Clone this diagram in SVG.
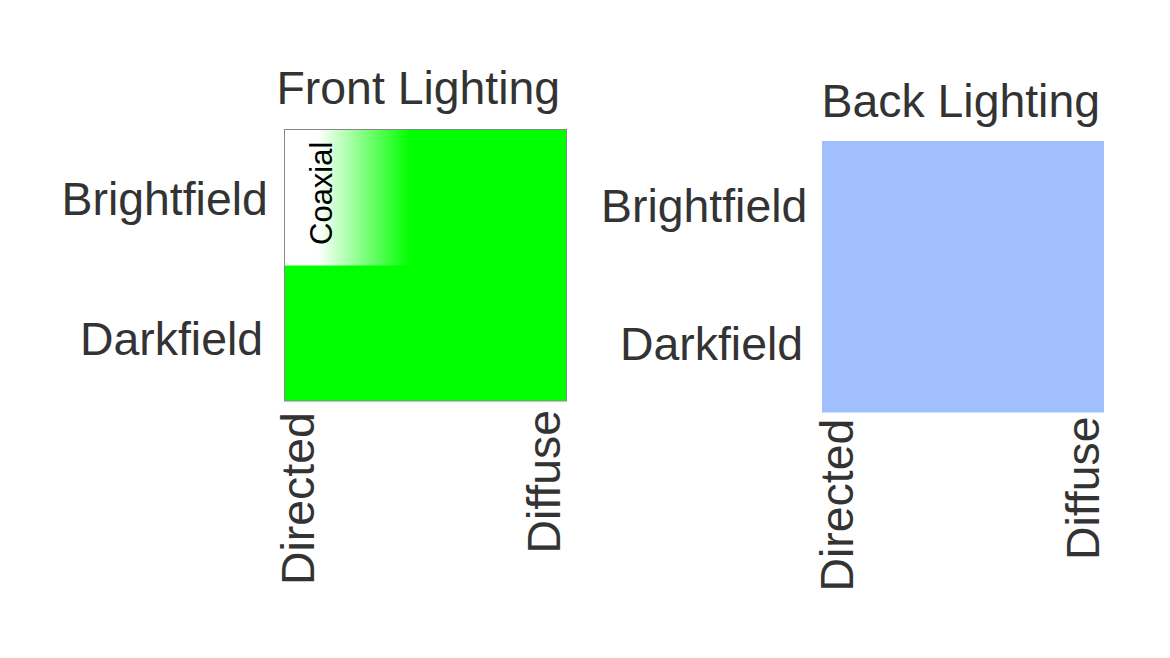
<svg xmlns="http://www.w3.org/2000/svg" width="1170" height="658" viewBox="0 0 1170 658">
  <style>
    .lbl { font-family: "Liberation Sans", Arial, sans-serif; font-size: 46.4px; fill: #333333; }
    .coax { font-family: "Liberation Sans", Arial, sans-serif; font-size: 31px; fill: #000000; }
  </style>
  <defs>
    <linearGradient id="coaxGrad" gradientUnits="userSpaceOnUse" x1="318" y1="0" x2="410" y2="0">
      <stop offset="0" stop-color="#ffffff"/>
      <stop offset="1" stop-color="#00ff00"/>
    </linearGradient>
  </defs>
  <rect width="1170" height="658" fill="#ffffff"/>

  <g id="front">
    <rect x="284.5" y="129.5" width="282" height="271.5" fill="#00ff00" stroke="#888888" stroke-width="1"/>
    <rect x="285" y="130" width="125" height="135.5" fill="url(#coaxGrad)"/>
    <text class="coax" transform="translate(331.5,245) rotate(-90)">Coaxial</text>
    <text class="lbl" x="276.5" y="104">Front Lighting</text>
    <text class="lbl" x="61.5" y="215">Brightfield</text>
    <text class="lbl" x="80" y="355">Darkfield</text>
    <text class="lbl" transform="translate(313.5,585) rotate(-90)">Directed</text>
    <text class="lbl" transform="translate(560,553.5) rotate(-90)">Diffuse</text>
  </g>

  <g id="back">
    <rect x="822" y="141" width="282" height="271.5" fill="#a0bffc"/>
    <text class="lbl" x="821.5" y="116.7">Back Lighting</text>
    <text class="lbl" x="601" y="221.7">Brightfield</text>
    <text class="lbl" x="620" y="360">Darkfield</text>
    <text class="lbl" transform="translate(852.7,591.5) rotate(-90)">Directed</text>
    <text class="lbl" transform="translate(1099.3,560) rotate(-90)">Diffuse</text>
  </g>

  <g id="connectors"></g>
</svg>
